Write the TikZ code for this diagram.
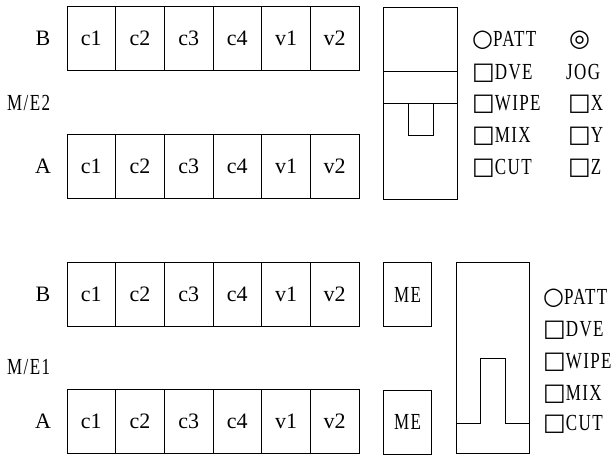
\documentclass[tikz,border=0pt]{standalone}
\usepackage{fontspec}
\setmainfont{Liberation Serif}
\newfontfamily\narrowfont[FakeStretch=0.74, LetterSpace=6]{Liberation Serif}
\newfontfamily\symfont{DejaVu Sans}
\newcommand{\sqbox}{{\symfont\fontsize{24}{24}\selectfont □}}
\newcommand{\ringsym}{{\symfont\fontsize{24}{24}\selectfont ○}}
\newcommand{\bullsym}{{\symfont\fontsize{24}{24}\selectfont ◎}}
\tikzset{
  cell/.style={draw, line width=0.9pt, minimum width=48.7pt, minimum height=64pt, inner sep=0pt, font=\fontsize{22}{22}\selectfont},
  lbl/.style={anchor=base west, inner sep=0pt, font=\narrowfont\fontsize{23}{23}\selectfont},
  panel/.style={line width=0.9pt},
}
\begin{document}
\begin{tikzpicture}[x=1pt,y=-1pt]
      % \draw[help lines](0,0) grid (614,457);
      \useasboundingbox (0,0) rectangle (614,457);

      \foreach \row/\y in {b2/38, a2/166.5, b1/294, a1/421.5}
        \foreach \t [count=\i] in {c1,c2,c3,c4,v1,v2}
          \node[cell] (\row-\i) at ({67+48.67*(\i-0.5)},\y) {\t};

      \node[cell, draw=none] (b2lbl) at (43,38) {B};
      \node[cell, draw=none] (a2lbl) at (43,166.5) {A};
      \node[cell, draw=none] (b1lbl) at (43,294) {B};
      \node[cell, draw=none] (a1lbl) at (43,421.5) {A};
      \node[lbl, anchor=west] (me2) at (7,103) {M/E2};
      \node[lbl, anchor=west] (me1) at (7,367) {M/E1};

      % fader M/E2
      \draw[panel] (383,7) rectangle (457,199);
      \draw[panel] (383,71) -- (457,71);
      \draw[panel] (383,103) -- (457,103);
      \draw[panel] (408,103) -- (408,135) -- (433,135) -- (433,103);

      \node[lbl] (patt2) at (472,46.5) {\ringsym PATT};
      \node[lbl] (dve2) at (472,79.5) {\sqbox DVE};
      \node[lbl] (wipe2) at (472,110.5) {\sqbox WIPE};
      \node[lbl] (mix2) at (472,142.5) {\sqbox MIX};
      \node[lbl] (cut2) at (472,174.5) {\sqbox CUT};
      \node[lbl] (jogsym) at (569,46.5) {\bullsym};
      \node[lbl] (jog) at (566,79.5) {JOG};
      \node[lbl] (jogx) at (568,110.5) {\sqbox X};
      \node[lbl] (jogy) at (568,142.5) {\sqbox Y};
      \node[lbl] (jogz) at (568,174.5) {\sqbox Z};

      % fader M/E1
      \node[cell, font=\narrowfont\fontsize{23}{23}\selectfont] (meb) at (407.5,294.5) {ME};
      \node[cell, font=\narrowfont\fontsize{23}{23}\selectfont] (mea) at (407.5,422) {ME};
      \draw[panel] (456,262) rectangle (529,453);
      \draw[panel] (456,423) -- (480,423) -- (480,358) -- (505,358) -- (505,423) -- (529,423);

      \node[lbl] (patt1) at (543,304.5) {\ringsym PATT};
      \node[lbl] (dve1) at (543,336.5) {\sqbox DVE};
      \node[lbl] (wipe1) at (543,368.5) {\sqbox WIPE};
      \node[lbl] (mix1) at (543,400.5) {\sqbox MIX};
      \node[lbl] (cut1) at (543,430.5) {\sqbox CUT};
    \end{tikzpicture}
\end{document}
